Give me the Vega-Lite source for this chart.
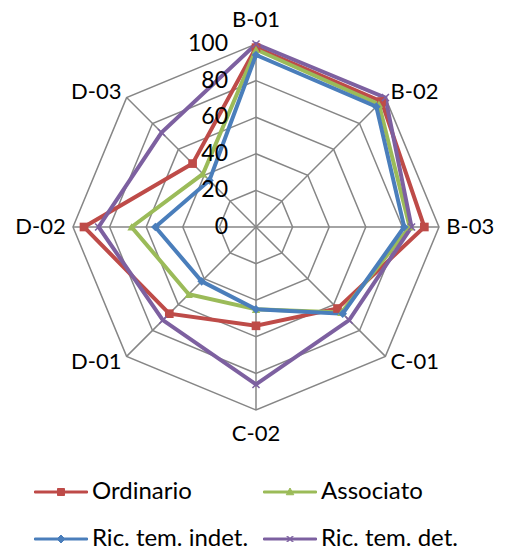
{
  "$schema": "https://vega.github.io/schema/vega-lite/v6.json",
  "width": 505,
  "height": 553,
  "autosize": {"type": "none"},
  "padding": 0,
  "background": "white",
  "config": {"view": {"stroke": null}, "font": "Lato"},
  "datasets": {
    "scores": [
      {"series": "Ordinario", "axis": "B-01", "idx": 0, "value": 98},
      {"series": "Ordinario", "axis": "B-02", "idx": 1, "value": 97},
      {"series": "Ordinario", "axis": "B-03", "idx": 2, "value": 92},
      {"series": "Ordinario", "axis": "C-01", "idx": 3, "value": 63},
      {"series": "Ordinario", "axis": "C-02", "idx": 4, "value": 54},
      {"series": "Ordinario", "axis": "D-01", "idx": 5, "value": 67},
      {"series": "Ordinario", "axis": "D-02", "idx": 6, "value": 94},
      {"series": "Ordinario", "axis": "D-03", "idx": 7, "value": 49},
      {"series": "Associato", "axis": "B-01", "idx": 0, "value": 97},
      {"series": "Associato", "axis": "B-02", "idx": 1, "value": 95},
      {"series": "Associato", "axis": "B-03", "idx": 2, "value": 84},
      {"series": "Associato", "axis": "C-01", "idx": 3, "value": 66},
      {"series": "Associato", "axis": "C-02", "idx": 4, "value": 45},
      {"series": "Associato", "axis": "D-01", "idx": 5, "value": 52},
      {"series": "Associato", "axis": "D-02", "idx": 6, "value": 68},
      {"series": "Associato", "axis": "D-03", "idx": 7, "value": 41},
      {"series": "Ric. tem. indet.", "axis": "B-01", "idx": 0, "value": 94},
      {"series": "Ric. tem. indet.", "axis": "B-02", "idx": 1, "value": 93},
      {"series": "Ric. tem. indet.", "axis": "B-03", "idx": 2, "value": 81},
      {"series": "Ric. tem. indet.", "axis": "C-01", "idx": 3, "value": 67},
      {"series": "Ric. tem. indet.", "axis": "C-02", "idx": 4, "value": 45},
      {"series": "Ric. tem. indet.", "axis": "D-01", "idx": 5, "value": 42},
      {"series": "Ric. tem. indet.", "axis": "D-02", "idx": 6, "value": 55},
      {"series": "Ric. tem. indet.", "axis": "D-03", "idx": 7, "value": 36},
      {"series": "Ric. tem. det.", "axis": "B-01", "idx": 0, "value": 100},
      {"series": "Ric. tem. det.", "axis": "B-02", "idx": 1, "value": 100},
      {"series": "Ric. tem. det.", "axis": "B-03", "idx": 2, "value": 85},
      {"series": "Ric. tem. det.", "axis": "C-01", "idx": 3, "value": 72},
      {"series": "Ric. tem. det.", "axis": "C-02", "idx": 4, "value": 86},
      {"series": "Ric. tem. det.", "axis": "D-01", "idx": 5, "value": 72},
      {"series": "Ric. tem. det.", "axis": "D-02", "idx": 6, "value": 86},
      {"series": "Ric. tem. det.", "axis": "D-03", "idx": 7, "value": 73}
    ],
    "spokes": [
      {"axis": "B-01", "idx": 0, "levels": [20, 40, 60, 80, 100]},
      {"axis": "B-02", "idx": 1, "levels": [20, 40, 60, 80, 100]},
      {"axis": "B-03", "idx": 2, "levels": [20, 40, 60, 80, 100]},
      {"axis": "C-01", "idx": 3, "levels": [20, 40, 60, 80, 100]},
      {"axis": "C-02", "idx": 4, "levels": [20, 40, 60, 80, 100]},
      {"axis": "D-01", "idx": 5, "levels": [20, 40, 60, 80, 100]},
      {"axis": "D-02", "idx": 6, "levels": [20, 40, 60, 80, 100]},
      {"axis": "D-03", "idx": 7, "levels": [20, 40, 60, 80, 100]}
    ],
    "ticks": [
      {"level": 0}, {"level": 20}, {"level": 40},
      {"level": 60}, {"level": 80}, {"level": 100}
    ]
  },
  "layer": [
    {
      "data": {"name": "scores"},
      "transform": [{"filter": "false"}],
      "mark": {"type": "point", "filled": true, "opacity": 1},
      "encoding": {
        "color": {
          "field": "series",
          "type": "nominal",
          "scale": {
            "domain": ["Ordinario", "Associato", "Ric. tem. indet.", "Ric. tem. det."],
            "range": ["#BE4B48", "#9BBB59", "#4A7EBB", "#7D60A0"]
          },
          "legend": {
            "orient": "none",
            "direction": "horizontal",
            "legendX": 49,
            "legendY": 480,
            "title": null,
            "columns": 2,
            "columnPadding": 12,
            "rowPadding": 23,
            "padding": 0,
            "symbolSize": 100,
            "symbolStrokeWidth": 1,
            "symbolOpacity": 1,
            "labelFont": "Lato",
            "labelFontSize": 24,
            "labelColor": "#000000",
            "labelOffset": 19,
            "labelLimit": 300
          }
        },
        "shape": {
          "field": "series",
          "type": "nominal",
          "scale": {
            "domain": ["Ordinario", "Associato", "Ric. tem. indet.", "Ric. tem. det."],
            "range": [
              "M-5.3,-0.2L5.3,-0.2L5.3,0.2L-5.3,0.2Z M-0.7,-0.7L0.7,-0.7L0.7,0.7L-0.7,0.7Z",
              "M-5.3,-0.2L5.3,-0.2L5.3,0.2L-5.3,0.2Z M0,-0.8L0.75,0.55L-0.75,0.55Z",
              "M-5.3,-0.2L5.3,-0.2L5.3,0.2L-5.3,0.2Z M0,-0.8L0.8,0L0,0.8L-0.8,0Z",
              "M-5.3,-0.2L5.3,-0.2L5.3,0.2L-5.3,0.2Z M-0.5,-0.6L0.6,0.5L0.5,0.6L-0.6,-0.5Z M0.6,-0.5L-0.5,0.6L-0.6,0.5L0.5,-0.6Z"
            ]
          },
          "legend": {
            "orient": "none",
            "direction": "horizontal",
            "legendX": 49,
            "legendY": 480,
            "title": null,
            "columns": 2,
            "columnPadding": 12,
            "rowPadding": 23,
            "padding": 0,
            "symbolSize": 100,
            "symbolStrokeWidth": 1,
            "symbolOpacity": 1,
            "labelFont": "Lato",
            "labelFontSize": 24,
            "labelColor": "#000000",
            "labelOffset": 19,
            "labelLimit": 300
          }
        }
      }
    },
    {
      "data": {"name": "spokes"},
      "transform": [
        {"flatten": ["levels"], "as": ["level"]},
        {"calculate": "datum.level * sin(datum.idx * PI / 4)", "as": "gx"},
        {"calculate": "datum.level * cos(datum.idx * PI / 4)", "as": "gy"}
      ],
      "mark": {"type": "line", "interpolate": "linear-closed", "color": "#868686", "strokeWidth": 1.5},
      "encoding": {
        "x": {"field": "gx", "type": "quantitative", "axis": null, "scale": {"domain": [-139.89, 136.07], "nice": false, "zero": false}},
        "y": {"field": "gy", "type": "quantitative", "axis": null, "scale": {"domain": [-178.14, 124.04], "nice": false, "zero": false}},
        "detail": {"field": "level", "type": "nominal"},
        "order": {"field": "idx", "type": "quantitative"}
      }
    },
    {
      "data": {"name": "spokes"},
      "transform": [
        {"calculate": "0", "as": "cx"},
        {"calculate": "100 * sin(datum.idx * PI / 4)", "as": "ex"},
        {"calculate": "100 * cos(datum.idx * PI / 4)", "as": "ey"}
      ],
      "mark": {"type": "rule", "color": "#868686", "strokeWidth": 1.5},
      "encoding": {
        "x": {"field": "cx", "type": "quantitative"},
        "y": {"field": "cx", "type": "quantitative"},
        "x2": {"field": "ex"},
        "y2": {"field": "ey"}
      }
    },
    {
      "data": {"name": "scores"},
      "transform": [
        {"calculate": "datum.value * sin(datum.idx * PI / 4)", "as": "px"},
        {"calculate": "datum.value * cos(datum.idx * PI / 4)", "as": "py"}
      ],
      "mark": {"type": "line", "interpolate": "linear-closed", "strokeWidth": 4},
      "encoding": {
        "x": {"field": "px", "type": "quantitative"},
        "y": {"field": "py", "type": "quantitative"},
        "order": {"field": "idx", "type": "quantitative"},
        "color": {"field": "series", "type": "nominal"}
      }
    },
    {
      "data": {"name": "scores"},
      "transform": [
        {"filter": "datum.series === 'Ordinario'"},
        {"calculate": "datum.value * sin(datum.idx * PI / 4)", "as": "px"},
        {"calculate": "datum.value * cos(datum.idx * PI / 4)", "as": "py"}
      ],
      "mark": {"type": "point", "shape": "square", "filled": true, "size": 75, "opacity": 1},
      "encoding": {
        "x": {"field": "px", "type": "quantitative"},
        "y": {"field": "py", "type": "quantitative"},
        "color": {"field": "series", "type": "nominal"}
      }
    },
    {
      "data": {"name": "scores"},
      "transform": [
        {"filter": "datum.series === 'Associato'"},
        {"calculate": "datum.value * sin(datum.idx * PI / 4)", "as": "px"},
        {"calculate": "datum.value * cos(datum.idx * PI / 4)", "as": "py"}
      ],
      "mark": {"type": "point", "shape": "triangle-up", "filled": true, "size": 70, "opacity": 1},
      "encoding": {
        "x": {"field": "px", "type": "quantitative"},
        "y": {"field": "py", "type": "quantitative"},
        "color": {"field": "series", "type": "nominal"}
      }
    },
    {
      "data": {"name": "scores"},
      "transform": [
        {"filter": "datum.series === 'Ric. tem. indet.'"},
        {"calculate": "datum.value * sin(datum.idx * PI / 4)", "as": "px"},
        {"calculate": "datum.value * cos(datum.idx * PI / 4)", "as": "py"}
      ],
      "mark": {"type": "point", "shape": "diamond", "filled": true, "size": 75, "opacity": 1},
      "encoding": {
        "x": {"field": "px", "type": "quantitative"},
        "y": {"field": "py", "type": "quantitative"},
        "color": {"field": "series", "type": "nominal"}
      }
    },
    {
      "data": {"name": "scores"},
      "transform": [
        {"filter": "datum.series === 'Ric. tem. det.'"},
        {"calculate": "datum.value * sin(datum.idx * PI / 4)", "as": "px"},
        {"calculate": "datum.value * cos(datum.idx * PI / 4)", "as": "py"}
      ],
      "mark": {"type": "point", "shape": "M-1,-1L1,1M1,-1L-1,1", "filled": false, "size": 50, "strokeWidth": 1.5, "opacity": 1},
      "encoding": {
        "x": {"field": "px", "type": "quantitative"},
        "y": {"field": "py", "type": "quantitative"},
        "color": {"field": "series", "type": "nominal"}
      }
    },
    {
      "data": {"name": "spokes"},
      "transform": [
        {"filter": "datum.idx % 4 == 0"},
        {"calculate": "113 * sin(datum.idx * PI / 4)", "as": "lx"},
        {"calculate": "113 * cos(datum.idx * PI / 4)", "as": "ly"}
      ],
      "mark": {"type": "text", "align": "center", "baseline": "middle", "font": "Lato", "fontSize": 22, "color": "#000000"},
      "encoding": {
        "x": {"field": "lx", "type": "quantitative"},
        "y": {"field": "ly", "type": "quantitative"},
        "text": {"field": "axis", "type": "nominal"}
      }
    },
    {
      "data": {"name": "spokes"},
      "transform": [
        {"filter": "datum.idx >= 1 && datum.idx <= 3"},
        {"calculate": "104 * sin(datum.idx * PI / 4)", "as": "lx"},
        {"calculate": "104 * cos(datum.idx * PI / 4)", "as": "ly"}
      ],
      "mark": {"type": "text", "align": "left", "baseline": "middle", "font": "Lato", "fontSize": 22, "color": "#000000"},
      "encoding": {
        "x": {"field": "lx", "type": "quantitative"},
        "y": {"field": "ly", "type": "quantitative"},
        "text": {"field": "axis", "type": "nominal"}
      }
    },
    {
      "data": {"name": "spokes"},
      "transform": [
        {"filter": "datum.idx >= 5"},
        {"calculate": "104 * sin(datum.idx * PI / 4)", "as": "lx"},
        {"calculate": "104 * cos(datum.idx * PI / 4)", "as": "ly"}
      ],
      "mark": {"type": "text", "align": "right", "baseline": "middle", "font": "Lato", "fontSize": 22, "color": "#000000"},
      "encoding": {
        "x": {"field": "lx", "type": "quantitative"},
        "y": {"field": "ly", "type": "quantitative"},
        "text": {"field": "axis", "type": "nominal"}
      }
    },
    {
      "data": {"name": "ticks"},
      "transform": [{"calculate": "0", "as": "tx"}],
      "mark": {"type": "text", "align": "right", "baseline": "middle", "dx": -28, "font": "Lato", "fontSize": 23, "color": "#000000"},
      "encoding": {
        "x": {"field": "tx", "type": "quantitative"},
        "y": {"field": "level", "type": "quantitative"},
        "text": {"field": "level", "type": "quantitative"}
      }
    }
  ]
}
